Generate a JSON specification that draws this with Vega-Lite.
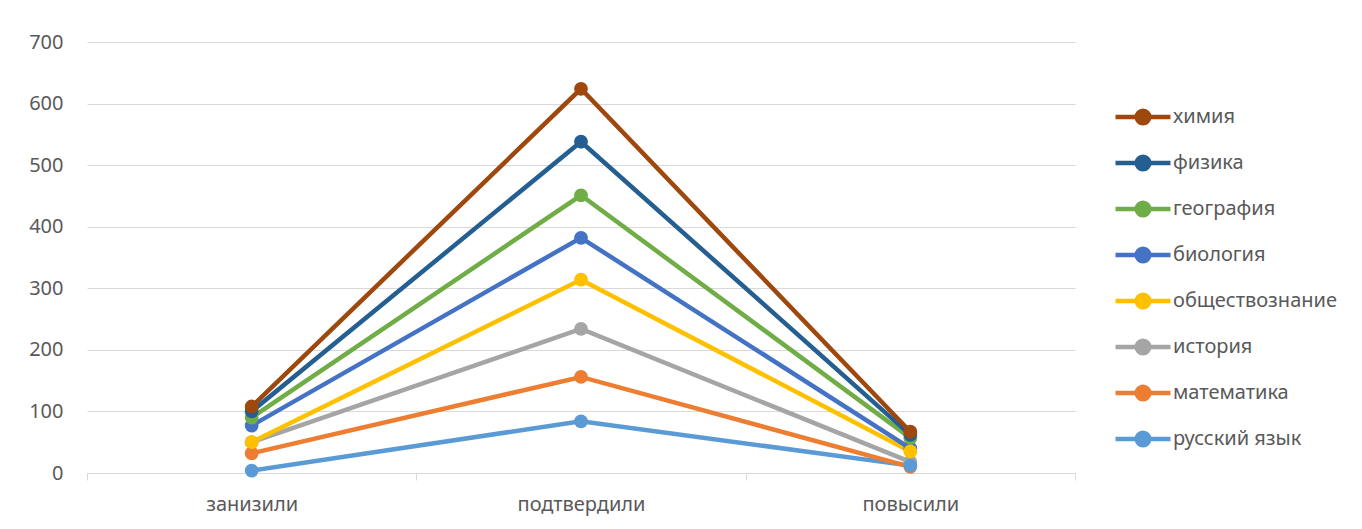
{
  "$schema": "https://vega.github.io/schema/vega-lite/v6.json",
  "width": 988,
  "height": 431,
  "autosize": {"type": "none"},
  "padding": {"left": 87, "top": 42, "right": 287, "bottom": 56},
  "background": "white",
  "config": {
    "font": "Noto Sans",
    "view": {"stroke": null},
    "axis": {"labelFont": "Noto Sans", "labelColor": "#595959", "labelFontSize": 20, "title": null}
  },
  "data": {
    "values": [
      {"s": "русский язык", "c": "занизили", "v": 4},
      {"s": "русский язык", "c": "подтвердили", "v": 84},
      {"s": "русский язык", "c": "повысили", "v": 12},
      {"s": "математика", "c": "занизили", "v": 32},
      {"s": "математика", "c": "подтвердили", "v": 156},
      {"s": "математика", "c": "повысили", "v": 10},
      {"s": "история", "c": "занизили", "v": 50},
      {"s": "история", "c": "подтвердили", "v": 234},
      {"s": "история", "c": "повысили", "v": 18},
      {"s": "обществознание", "c": "занизили", "v": 50},
      {"s": "обществознание", "c": "подтвердили", "v": 314},
      {"s": "обществознание", "c": "повысили", "v": 35},
      {"s": "биология", "c": "занизили", "v": 77},
      {"s": "биология", "c": "подтвердили", "v": 382},
      {"s": "биология", "c": "повысили", "v": 40},
      {"s": "география", "c": "занизили", "v": 90},
      {"s": "география", "c": "подтвердили", "v": 451},
      {"s": "география", "c": "повысили", "v": 57},
      {"s": "физика", "c": "занизили", "v": 100},
      {"s": "физика", "c": "подтвердили", "v": 538},
      {"s": "физика", "c": "повысили", "v": 62},
      {"s": "химия", "c": "занизили", "v": 108},
      {"s": "химия", "c": "подтвердили", "v": 624},
      {"s": "химия", "c": "повысили", "v": 67}
    ]
  },
  "mark": {"type": "line", "strokeWidth": 4.5, "point": {"filled": true, "size": 190, "opacity": 1}},
  "encoding": {
    "x": {
      "field": "c", "type": "nominal", "sort": ["занизили", "подтвердили", "повысили"],
      "scale": {"paddingInner": 0, "paddingOuter": 0},
      "axis": {"labelAngle": 0, "domainColor": "#d9d9d9", "tickColor": "#d9d9d9", "tickBand": "extent", "tickSize": 7, "labelPadding": 14, "grid": false}
    },
    "y": {
      "field": "v", "type": "quantitative",
      "scale": {"domain": [0, 700], "nice": false},
      "axis": {"values": [0, 100, 200, 300, 400, 500, 600, 700], "domain": false, "ticks": false, "gridColor": "#d9d9d9", "gridWidth": 1, "labelPadding": 24}
    },
    "color": {
      "field": "s", "type": "nominal",
      "scale": {
        "domain": ["химия", "физика", "география", "биология", "обществознание", "история", "математика", "русский язык"],
        "range": ["#9E480E", "#255E91", "#70AD47", "#4472C4", "#FFC000", "#A5A5A5", "#ED7D31", "#5B9BD5"]
      },
      "legend": {
        "title": null, "orient": "none", "legendX": 1026, "legendY": 45,
        "symbolType": "M -1 0 L 1 0 M -0.23 0 A 0.23 0.23 0 1 1 0.23 0 A 0.23 0.23 0 1 1 -0.23 0 Z",
        "symbolSize": 3025, "symbolStrokeWidth": 4.5, "symbolOpacity": 1,
        "rowPadding": -6, "labelFontSize": 20, "labelColor": "#595959", "labelFont": "Noto Sans", "labelOffset": 0, "labelLimit": 300
      }
    },
    "order": {"field": "s", "sort": "ascending"}
  }
}
